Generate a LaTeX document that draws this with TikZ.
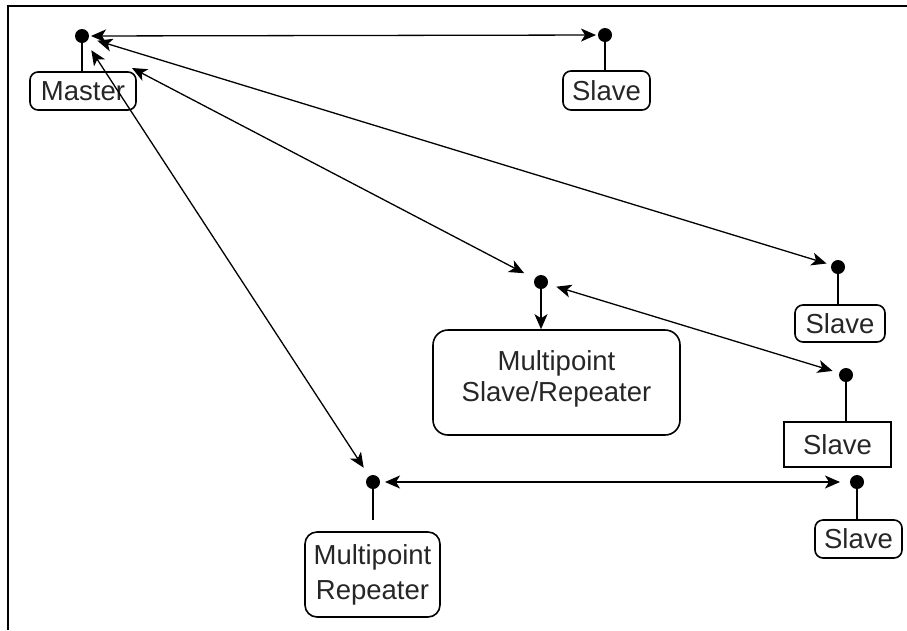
\documentclass[tikz,border=0pt]{standalone}
\usepackage{fontspec}
\setmainfont{Liberation Sans}
\usetikzlibrary{arrows.meta}
\begin{document}
\begin{tikzpicture}[x=1pt,y=-1pt,
  mytip/.tip={Stealth[length=15pt,width=13pt,inset=4pt]},
  dot/.style={circle,fill=black,inner sep=0pt,minimum size=14pt},
  stem/.style={line width=2pt},
  conn/.style={line width=1.3pt,mytip-mytip},
  box/.style={draw,line width=1.6pt,rounded corners=8pt,inner sep=0pt,align=center,
    text=black!85,font=\fontsize{27.5}{33}\selectfont},
  sbox/.style={box,sharp corners}
]
\useasboundingbox (0,0) rectangle (907,630);
\draw[line width=2.2pt] (8,630) -- (8,6) -- (907,6);

% dots
\node[dot] (dm)  at (82,36) {};
\node[dot] (ds1) at (605,35) {};
\node[dot] (ds2) at (838,267) {};
\node[dot] (dsr) at (541,282) {};
\node[dot] (ds3) at (846,375) {};
\node[dot] (dr)  at (373,482) {};
\node[dot] (ds4) at (857,482) {};

% boxes
\node[box,minimum width=106pt,minimum height=38pt] (master) at (83,91) {Master};
\node[box,minimum width=87pt,minimum height=39pt] (s1) at (606.5,90.5) {Slave};
\node[box,minimum width=90pt,minimum height=37pt] (s2) at (840,323.5) {Slave};
\node[sbox,minimum width=107pt,minimum height=45pt] (s3) at (837.5,444.5) {Slave};
\node[box,minimum width=87pt,minimum height=38pt] (s4) at (858.5,539) {Slave};
\node[box,rounded corners=15pt,minimum width=247pt,minimum height=105pt,
  font=\fontsize{27.5}{32}\selectfont] (msr) at (556.5,382.5)
  {\raisebox{13pt}{\shortstack{Multipoint\\[3pt]Slave/Repeater}}};
\node[box,rounded corners=12pt,minimum width=135pt,minimum height=85pt,
  font=\fontsize{27.5}{35}\selectfont] (mr) at (372.5,574.5) {Multipoint\\Repeater};

% stems
\draw[stem] (dm.center) -- (dm.center |- master.north);
\draw[stem] (ds1.center) -- (ds1.center |- s1.north);
\draw[stem] (ds2.center) -- (ds2.center |- s2.north);
\draw[stem] (ds3.center) -- (ds3.center |- s3.north);
\draw[stem] (ds4.center) -- (ds4.center |- s4.north);
\coordinate (mrs) at (373,520);
\draw[stem] (dr.center) -- (mrs);
\draw[line width=1.6pt,-mytip] (dsr.center) -- (dsr.center |- msr.north);

% connectors
\coordinate (m3) at (132,68);
\draw[conn,shorten <=9pt,shorten >=9pt] (dm.center) -- (ds1.center);
\draw[conn,shorten <=16pt,shorten >=12pt] (dm.center) -- (ds2.center);
\draw[conn,shorten >=19pt] (m3) -- (dsr.center);
\draw[conn,shorten <=17pt,shorten >=17pt] (dm.center) -- (dr.center);
\draw[conn,shorten <=16pt,shorten >=14pt] (dsr.center) -- (ds3.center);
\draw[conn,shorten <=12pt,shorten >=17pt] (dr.center) -- (ds4.center);
\end{tikzpicture}
\end{document}
